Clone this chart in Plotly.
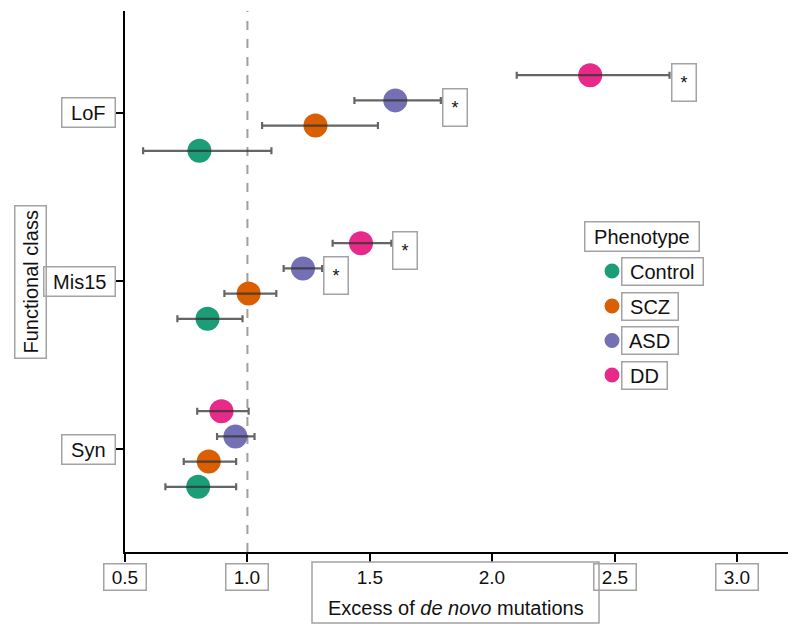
import plotly.graph_objects as go

# ---------------- data ----------------
classes = ["LoF", "Mis15", "Syn"]
class_pos = [3, 2, 1]
phenotypes = ["Control", "SCZ", "ASD", "DD"]
colors = ["#1b9e77", "#d95f02", "#7570b3", "#e7298a"]
offsets = [-0.225, -0.075, 0.075, 0.225]

# estimates per phenotype, in class order [LoF, Mis15, Syn]
est = {
    "Control": [0.804, 0.837, 0.799],
    "SCZ":     [1.278, 1.005, 0.842],
    "ASD":     [1.604, 1.227, 0.951],
    "DD":      [2.400, 1.464, 0.894],
}
lo = {
    "Control": [0.574, 0.714, 0.665],
    "SCZ":     [1.060, 0.906, 0.740],
    "ASD":     [1.437, 1.148, 0.876],
    "DD":      [2.100, 1.348, 0.795],
}
hi = {
    "Control": [1.098, 0.980, 0.954],
    "SCZ":     [1.533, 1.118, 0.954],
    "ASD":     [1.790, 1.305, 1.029],
    "DD":      [2.724, 1.588, 1.005],
}
sig = {
    "Control": [False, False, False],
    "SCZ":     [False, False, False],
    "ASD":     [True, True, False],
    "DD":      [True, True, False],
}
x_ticks = [0.5, 1.0, 1.5, 2.0, 2.5, 3.0]
x_tick_labels = ["0.5", "1.0", "1.5", "2.0", "2.5", "3.0"]
x_tick_boxed = [True, True, False, False, True, True]
x_range = [0.5, 3.208]
y_range = [0.387, 3.607]

# ---------------- layout helpers ----------------
OFF = 8  # page body margin
W, H = 800 - OFF, 635 - OFF
PL, PR, PT, PB = 125 - OFF, 788 - OFF, 11 - OFF, 552 - OFF
FONT = "Arial, Liberation Sans, Helvetica, sans-serif"
BOX = "#a3a3a3"


def px_x(px):
    return (px - OFF - PL) / (PR - PL)


def px_y(py):
    return (PB - (py - OFF)) / (PB - PT)


fig = go.Figure()

# dashed reference line at 1.0
fig.add_shape(type="line", xref="x", yref="paper", x0=1.0, x1=1.0, y0=0, y1=1,
              line=dict(color="#a0a0a0", width=2, dash="dash"), layer="below")

for p, c, off in zip(phenotypes, colors, offsets):
    ys = [v + off for v in class_pos]
    fig.add_trace(go.Scatter(
        x=est[p], y=ys, mode="markers", name=p,
        marker=dict(color=c, size=24, line=dict(width=0)),
        showlegend=False, hoverinfo="skip"))
for p, c, off in zip(phenotypes, colors, offsets):
    ys = [v + off for v in class_pos]
    fig.add_trace(go.Scatter(
        x=est[p], y=ys, mode="markers",
        marker=dict(color=c, size=1, opacity=0),
        error_x=dict(type="data", symmetric=False,
                     array=[h - e for h, e in zip(hi[p], est[p])],
                     arrayminus=[e - l for e, l in zip(est[p], lo[p])],
                     color="rgba(50,50,50,0.75)", thickness=2.2, width=3.5),
        showlegend=False, hoverinfo="skip"))

annotations = []

# significance stars
for p, off in zip(phenotypes, offsets):
    for i, cp in enumerate(class_pos):
        if sig[p][i]:
            annotations.append(dict(
                x=hi[p][i], y=cp + off, xref="x", yref="y", text="*",
                showarrow=False, xanchor="left", yanchor="top",
                xshift=1, yshift=12, width=21, height=34, borderpad=1,
                valign="middle", bordercolor=BOX, borderwidth=1.5,
                font=dict(family=FONT, size=18, color="#111")))

# y tick labels
for name, cp in zip(classes, class_pos):
    annotations.append(dict(
        x=px_x(116), y=cp, xref="paper", yref="y", text=" " + name + " ",
        showarrow=False, xanchor="right", yanchor="middle", borderpad=3,
        bordercolor=BOX, borderwidth=1.5,
        font=dict(family=FONT, size=20, color="#111")))

# x tick labels
for xv, lab, boxed in zip(x_ticks, x_tick_labels, x_tick_boxed):
    annotations.append(dict(
        x=xv, y=px_y(577), xref="x", yref="paper", text=" " + lab + " ",
        showarrow=False, xanchor="center", yanchor="middle", borderpad=2,
        bordercolor=BOX if boxed else "rgba(0,0,0,0)", borderwidth=1.5,
        font=dict(family=FONT, size=19, color="#111")))

# x axis title (inside a box shared with 1.5/2.0 labels)
annotations.append(dict(
    x=px_x(456), y=px_y(608), xref="paper", yref="paper",
    text="Excess of <i>de novo</i> mutations", showarrow=False,
    xanchor="center", yanchor="middle",
    font=dict(family=FONT, size=20, color="#111")))
fig.add_shape(type="rect", xref="paper", yref="paper",
              x0=px_x(312), x1=px_x(599), y0=px_y(562), y1=px_y(623),
              line=dict(color=BOX, width=1.5))

# y axis title
annotations.append(dict(
    x=px_x(30), y=px_y(282), xref="paper", yref="paper",
    text="Functional class", textangle=-90, showarrow=False,
    xanchor="center", yanchor="middle", borderpad=4,
    bordercolor=BOX, borderwidth=1.5,
    font=dict(family=FONT, size=20, color="#111")))

# custom legend
annotations.append(dict(
    x=px_x(642), y=px_y(236), xref="paper", yref="paper",
    text=" Phenotype ", showarrow=False, xanchor="center", yanchor="middle",
    borderpad=3, bordercolor=BOX, borderwidth=1.5,
    font=dict(family=FONT, size=20, color="#111")))
leg_y = [271, 306, 340.5, 375]
for p, c, ly in zip(phenotypes, colors, leg_y):
    fig.add_shape(type="circle", xref="paper", yref="paper",
                  x0=px_x(604.5), x1=px_x(619.5), y0=px_y(ly + 7.5), y1=px_y(ly - 7.5),
                  fillcolor=c, line=dict(width=0))
    annotations.append(dict(
        x=px_x(621), y=px_y(ly), xref="paper", yref="paper",
        text=" " + p + " ", showarrow=False, xanchor="left", yanchor="middle",
        borderpad=2, bordercolor=BOX, borderwidth=1.5,
        font=dict(family=FONT, size=20, color="#111")))

fig.update_layout(
    width=W, height=H,
    margin=dict(l=PL, r=W - PR, t=PT, b=H - PB),
    paper_bgcolor="white", plot_bgcolor="white",
    showlegend=False,
    annotations=annotations,
    font=dict(family=FONT, size=20, color="#111"),
    xaxis=dict(range=x_range, tickvals=x_ticks, showticklabels=False,
               showgrid=False, zeroline=False, showline=True, linecolor="black",
               linewidth=2, ticks="outside", ticklen=8, tickwidth=2, tickcolor="black"),
    yaxis=dict(range=y_range, tickvals=class_pos, showticklabels=False,
               showgrid=False, zeroline=False, showline=True, linecolor="black",
               linewidth=2, ticks="outside", ticklen=8, tickwidth=2, tickcolor="black"),
)

fig.write_html("out.html")
